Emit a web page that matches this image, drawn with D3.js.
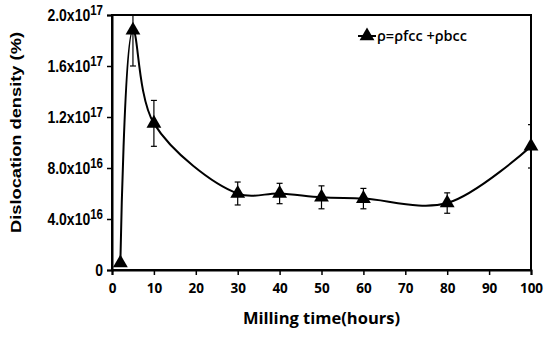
<!DOCTYPE html>
<html>
<head>
<meta charset="utf-8">
<script src="https://cdn.jsdelivr.net/npm/d3@7"></script>
<style>
  body { margin: 0; background: #fff; }
  svg { display: block; }
</style>
</head>
<body>
<div id="chart"></div>
<script>
// milling time (hours) and dislocation density values
const hours = [2, 5, 10, 30, 40, 50, 60, 80, 100];
const density = [5.5e15, 1.88e17, 1.15e17, 6.0e16, 6.0e16, 5.7e16, 5.6e16, 5.25e16, 9.7e16];
const errors = [0, 2.8e16, 1.8e16, 9e15, 8e15, 9e15, 8e15, 8e15, 1.7e16];

const xTicks = [0, 10, 20, 30, 40, 50, 60, 70, 80, 90, 100];
const yTicks = [0, 4e16, 8e16, 1.2e17, 1.6e17, 2e17];
const yMantissa = ['0', '4.0x10', '8.0x10', '1.2x10', '1.6x10', '2.0x10'];
const yExponent = ['', '16', '16', '17', '17', '17'];

const legendLabel = 'ρ=ρfcc +ρbcc';

const W = 550, H = 337;
const margin = { top: 15, right: 19, bottom: 67, left: 112 };
const width = W - margin.left - margin.right;
const height = H - margin.top - margin.bottom;

const svg = d3.select('#chart').append('svg')
  .attr('width', W)
  .attr('height', H);

const g = svg.append('g')
  .attr('transform', `translate(${margin.left},${margin.top})`);

const x = d3.scaleLinear().domain([0, 100]).range([0, width]);
const y = d3.scaleLinear().domain([0, 2e17]).range([height, 0]);

g.append('clipPath').attr('id', 'plot-clip')
  .append('rect').attr('width', width).attr('height', height);

// frame
g.append('rect')
  .attr('width', width).attr('height', height)
  .attr('fill', 'none').attr('stroke', '#000').attr('stroke-width', 2);

// X axis
const xAxis = g.append('g')
  .attr('transform', `translate(0,${height})`)
  .call(d3.axisBottom(x).tickValues(xTicks).tickSize(5).tickPadding(8));
xAxis.select('.domain').attr('stroke-width', 2);
xAxis.selectAll('line').attr('stroke-width', 1.5);
xAxis.selectAll('text')
  .style('font-family', '"Open Sans", sans-serif')
  .style('font-weight', '700')
  .style('font-size', '13.5px')
  .attr('fill', '#000');

// Y axis (labels slightly stretched vertically like the source image)
const yAxis = g.append('g')
  .call(d3.axisLeft(y).tickValues(yTicks).tickSize(5).tickPadding(4).tickFormat(() => ''));
yAxis.select('.domain').attr('stroke-width', 2);
yAxis.selectAll('line').attr('stroke-width', 1.5);
yAxis.selectAll('text').each(function(d, i) {
  const t = d3.select(this)
    .attr('transform', 'scale(1,1.2)')
    .style('font-family', '"Liberation Sans", Arial, sans-serif')
    .style('font-weight', '700')
    .style('font-size', '14px')
    .attr('fill', '#000');
  t.append('tspan').text(yMantissa[i]);
  if (yExponent[i]) {
    t.append('tspan').attr('dy', '-0.45em').style('font-size', '11.5px').text(yExponent[i]);
  }
});

// axis titles
svg.append('text')
  .attr('transform', `translate(21,${margin.top + height / 2 - 10}) rotate(-90) scale(1.18,1)`)
  .attr('text-anchor', 'middle')
  .style('font-family', '"Liberation Sans", Arial, sans-serif')
  .style('font-weight', '700')
  .style('font-size', '15.5px')
  .text('Dislocation density (%)');

svg.append('text')
  .attr('x', margin.left + width / 2)
  .attr('y', 324)
  .attr('text-anchor', 'middle')
  .style('font-family', '"Open Sans", sans-serif')
  .style('font-weight', '700')
  .style('font-size', '16.5px')
  .text('Milling time(hours)');

const plot = g.append('g').attr('clip-path', 'url(#plot-clip)');

const pts = hours.map((h, i) => ({ h, v: density[i], e: errors[i] }));

// smoothed line
plot.append('path')
  .datum(pts)
  .attr('fill', 'none')
  .attr('stroke', '#000')
  .attr('stroke-width', 2)
  .attr('d', d3.line().x(d => x(d.h)).y(d => y(d.v)).curve(d3.curveCatmullRom.alpha(0.5)));

// error bars
const eb = plot.selectAll('.err').data(pts.filter(d => d.e > 0)).join('g').attr('class', 'err');
eb.append('line')
  .attr('x1', d => x(d.h)).attr('x2', d => x(d.h))
  .attr('y1', d => y(d.v + d.e)).attr('y2', d => y(d.v - d.e))
  .attr('stroke', '#000').attr('stroke-width', 1.2);
eb.selectAll('.cap').data(d => [d.v + d.e, d.v - d.e].map(v => ({ h: d.h, v })))
  .join('line').attr('class', 'cap')
  .attr('x1', d => x(d.h) - 3).attr('x2', d => x(d.h) + 3)
  .attr('y1', d => y(d.v)).attr('y2', d => y(d.v))
  .attr('stroke', '#000').attr('stroke-width', 1.2);

// triangle markers
const tri = d3.symbol().type(d3.symbolTriangle).size(95);
g.selectAll('.marker').data(pts).join('path')
  .attr('class', 'marker')
  .attr('transform', d => `translate(${x(d.h)},${y(d.v)})`)
  .attr('d', tri)
  .attr('fill', '#000');

// legend
const lg = svg.append('g').attr('transform', 'translate(358,36)');
lg.append('line').attr('x1', 0).attr('x2', 18).attr('y1', 0).attr('y2', 0)
  .attr('stroke', '#000').attr('stroke-width', 2);
lg.append('path').attr('transform', 'translate(9,0)').attr('d', tri).attr('fill', '#000');
lg.append('text')
  .attr('x', 19).attr('y', 5)
  .style('font-family', '"Open Sans", sans-serif')
  .style('font-weight', '600')
  .style('font-size', '14.5px')
  .text(legendLabel);
</script>
</body>
</html>
